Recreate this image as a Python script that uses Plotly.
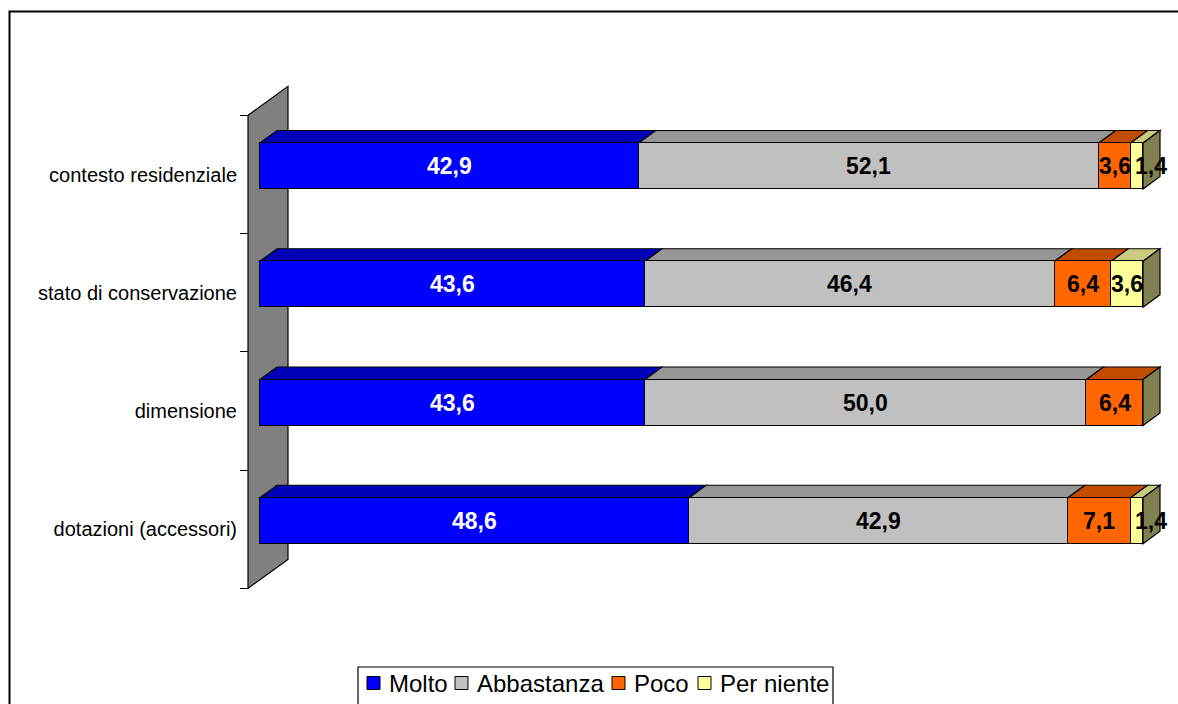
import plotly.graph_objects as go

# Categories, top to bottom
categories = ["contesto residenziale", "stato di conservazione", "dimensione", "dotazioni (accessori)"]
series_names = ["Molto", "Abbastanza", "Poco", "Per niente"]
molto = [42.9, 43.6, 43.6, 48.6]
abbastanza = [52.1, 46.4, 50.0, 42.9]
poco = [3.6, 6.4, 6.4, 7.1]
per_niente = [1.4, 3.6, 0.0, 1.4]

series_values = [molto, abbastanza, poco, per_niente]
front_colors = ["#0000FF", "#C0C0C0", "#FF6600", "#FFFF99"]
top_colors = ["#0000B8", "#969696", "#C04C00", "#CCCC80"]
side_color = "#808050"
label_colors = ["white", "black", "black", "black"]

W, H = 1178, 704
X_RANGE = [-29.445, 103.964]
Y_RANGE = [-1.4778, 4.4757]
ux = W / (X_RANGE[1] - X_RANGE[0])   # pixels per x unit
uy = H / (Y_RANGE[1] - Y_RANGE[0])   # pixels per y unit

# 3D look: depth vector of the bars and of the back wall
DEPTH_X, DEPTH_Y = 17 / ux, 12.5 / uy
WALL_DX, WALL_DY = 40 / ux, 29 / uy
WALL_X = -12 / ux
BAR_W = 46 / uy
FRONT_SHIFT = 8.5 / uy
LINE = dict(color="black", width=1.2)

n = len(categories)
band = [n - 1 - k for k in range(n)]          # band centre of each category
centers = [b + FRONT_SHIFT for b in band]     # centre of the bars' front face

fig = go.Figure()
for name, vals, col in zip(series_names, series_values, front_colors):
    fig.add_trace(go.Bar(
        orientation="h", x=vals, y=centers, width=BAR_W, name=name,
        marker=dict(color=col, line=LINE), hoverinfo="skip", showlegend=False,
    ))

shapes = []
# back wall
lo, hi = min(band) - 0.5, max(band) + 0.5
shapes.append(dict(
    type="path", xref="x", yref="y", layer="below",
    path=(f"M {WALL_X},{lo} L {WALL_X},{hi} L {WALL_X + WALL_DX},{hi + WALL_DY} "
          f"L {WALL_X + WALL_DX},{lo + WALL_DY} Z"),
    fillcolor="#808080", line=LINE))

annotations = []
for k in range(n):
    yt = centers[k] + BAR_W / 2
    yb = centers[k] - BAR_W / 2
    start = 0.0
    for s, vals in enumerate(series_values):
        v = vals[k]
        end = start + v
        if v > 0:
            # top face of the segment
            shapes.append(dict(
                type="path", xref="x", yref="y", layer="below",
                path=(f"M {start},{yt} L {end},{yt} L {end + DEPTH_X},{yt + DEPTH_Y} "
                      f"L {start + DEPTH_X},{yt + DEPTH_Y} Z"),
                fillcolor=top_colors[s], line=LINE))
            annotations.append(dict(
                x=(start + end) / 2, y=centers[k], xref="x", yref="y",
                text=f"{v:.1f}".replace(".", ","), showarrow=False,
                xshift=14 if v < 2 else 0,
                font=dict(family="Liberation Sans, Arial", size=23,
                          color=label_colors[s], weight="bold")))
        start = end
    # right end face of the bar
    shapes.append(dict(
        type="path", xref="x", yref="y", layer="below",
        path=(f"M {start},{yb} L {start},{yt} L {start + DEPTH_X},{yt + DEPTH_Y} "
              f"L {start + DEPTH_X},{yb + DEPTH_Y} Z"),
        fillcolor=side_color, line=LINE))

# chart area border
shapes.append(dict(type="rect", xref="paper", yref="paper",
                   x0=9.5 / W, x1=1.02, y0=-0.02, y1=1 - 11.5 / H,
                   line=dict(color="black", width=2), fillcolor="rgba(0,0,0,0)"))

# legend: framed row of colour keys and series names
LEG_LEFT, LEG_RIGHT, LEG_TOP = 358, 833, 667
LEG_MID = 683
text_x = [389, 477, 634, 720]
shapes.append(dict(type="rect", xref="paper", yref="paper",
                   x0=LEG_LEFT / W, x1=LEG_RIGHT / W, y0=-0.02, y1=1 - LEG_TOP / H,
                   line=dict(color="black", width=1.2), fillcolor="white"))
for name, col, tx in zip(series_names, front_colors, text_x):
    shapes.append(dict(type="rect", xref="paper", yref="paper",
                       x0=(tx - 22) / W, x1=(tx - 9) / W,
                       y0=1 - (LEG_MID + 6.5) / H, y1=1 - (LEG_MID - 6.5) / H,
                       fillcolor=col, line=dict(color="black", width=1)))
    annotations.append(dict(x=tx / W, y=1 - LEG_MID / H, xref="paper", yref="paper",
                            xanchor="left", yanchor="middle", text=name, showarrow=False,
                            xshift=-2, font=dict(family="Liberation Sans, Arial", size=24,
                                                 color="black")))

fig.update_layout(
    width=W, height=H, margin=dict(l=0, r=0, t=0, b=0),
    paper_bgcolor="white", plot_bgcolor="white",
    barmode="stack", bargap=0, showlegend=False,
    shapes=shapes, annotations=annotations,
    font=dict(family="Liberation Sans, Arial", color="black"),
    xaxis=dict(range=X_RANGE, visible=False, fixedrange=True),
    yaxis=dict(
        range=Y_RANGE, anchor="free", position=248 / W, side="left",
        tickmode="array", tickvals=band, ticktext=categories, ticks="",
        showgrid=False, zeroline=False, showline=False,
        tickfont=dict(size=20, color="black"), ticklabelstandoff=11,
        minor=dict(tickmode="array", tickvals=[b - 0.5 for b in band] + [hi],
                   ticks="outside", ticklen=8, tickcolor="black", tickwidth=1.2,
                   showgrid=False),
        fixedrange=True,
    ),
)

fig.write_html("out.html")
